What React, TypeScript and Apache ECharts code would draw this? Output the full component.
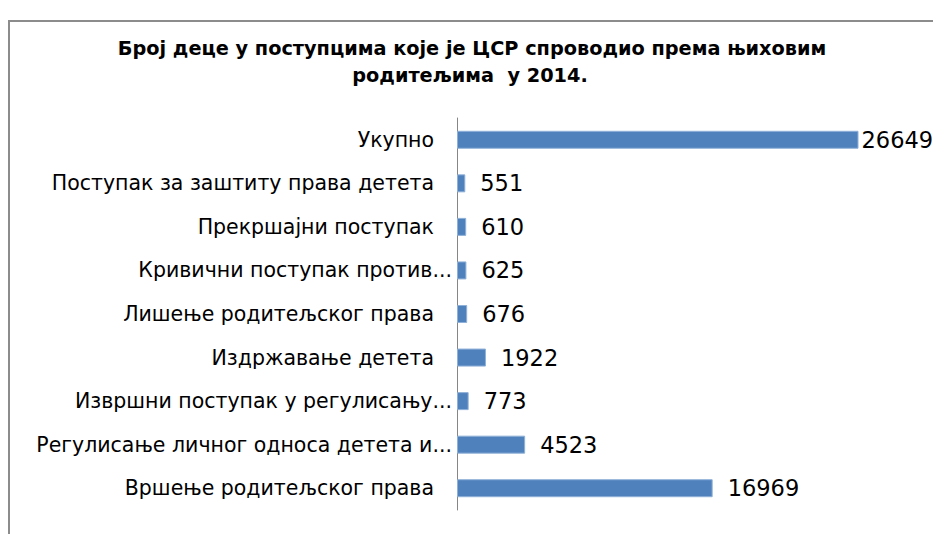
import React, { useEffect, useRef } from "react";
import * as echarts from "echarts";

const titleLines = [
  "Број деце у поступцима које је ЦСР спроводио према њиховим",
  "родитељима  у 2014.",
];

const categories = [
  "Укупно",
  "Поступак за заштиту права детета",
  "Прекршајни поступак",
  "Кривични поступак против...",
  "Лишење родитељског права",
  "Издржавање детета",
  "Извршни поступак у регулисању...",
  "Регулисање личног односа детета и...",
  "Вршење родитељског права",
];

const values = [26649, 551, 610, 625, 676, 1922, 773, 4523, 16969];

const axisMax = 30000;

export default function App() {
  const ref = useRef<HTMLDivElement>(null);
  useEffect(() => {
    if (!ref.current) return;
    const chart = echarts.init(ref.current, null, { renderer: "svg" });
    const font = "DejaVu Sans";
    const catSize = 20.5;
    chart.setOption({
      animation: false,
      backgroundColor: "#ffffff",
      textStyle: { fontFamily: font },
      graphic: [
        {
          type: "rect",
          shape: { x: 9, y: 21, width: 1000, height: 600 },
          style: { fill: "none", stroke: "#8c8c8c", lineWidth: 2 },
          silent: true,
        },
        {
          type: "text",
          x: 472,
          y: 48,
          style: {
            text: titleLines[0],
            font: `bold 19.3px "${font}"`,
            fill: "#000",
            align: "center",
            verticalAlign: "middle",
          },
        },
        {
          type: "text",
          x: 470,
          y: 75,
          style: {
            text: titleLines[1],
            font: `bold 19.3px "${font}"`,
            fill: "#000",
            align: "center",
            verticalAlign: "middle",
          },
        },
      ],
      grid: { left: 457, right: 24, top: 118, bottom: 24, containLabel: false },
      xAxis: {
        type: "value",
        min: 0,
        max: axisMax,
        show: false,
        splitLine: { show: false },
      },
      yAxis: {
        type: "category",
        data: categories,
        inverse: true,
        axisLine: { show: true, lineStyle: { color: "#868686", width: 1 } },
        axisTick: { show: false },
        axisLabel: {
          margin: 5,
          color: "#000",
          fontFamily: font,
          fontSize: catSize,
          formatter: (v: string) =>
            v.endsWith("...") ? `{t|${v}}` : `{n|${v}}`,
          rich: {
            t: { fontFamily: font, fontSize: catSize, color: "#000" },
            n: {
              fontFamily: font,
              fontSize: catSize,
              color: "#000",
              padding: [0, 18, 0, 0],
            },
          },
        },
      },
      series: [
        {
          type: "bar",
          data: values.map((v, i) => ({
            value: v,
            label: { distance: i === 0 ? 3 : 15 },
          })),
          barWidth: 18,
          itemStyle: { color: "#4F81BD", borderColor: "#8fb0d8", borderWidth: 1 },
          label: {
            show: true,
            position: "right",
            color: "#000",
            fontFamily: font,
            fontSize: 22.5,
          },
        },
      ],
    });
    return () => chart.dispose();
  }, []);
  return (
    <div
      ref={ref}
      style={{ position: "fixed", left: 0, top: 0, width: 933, height: 534 }}
    />
  );
}
